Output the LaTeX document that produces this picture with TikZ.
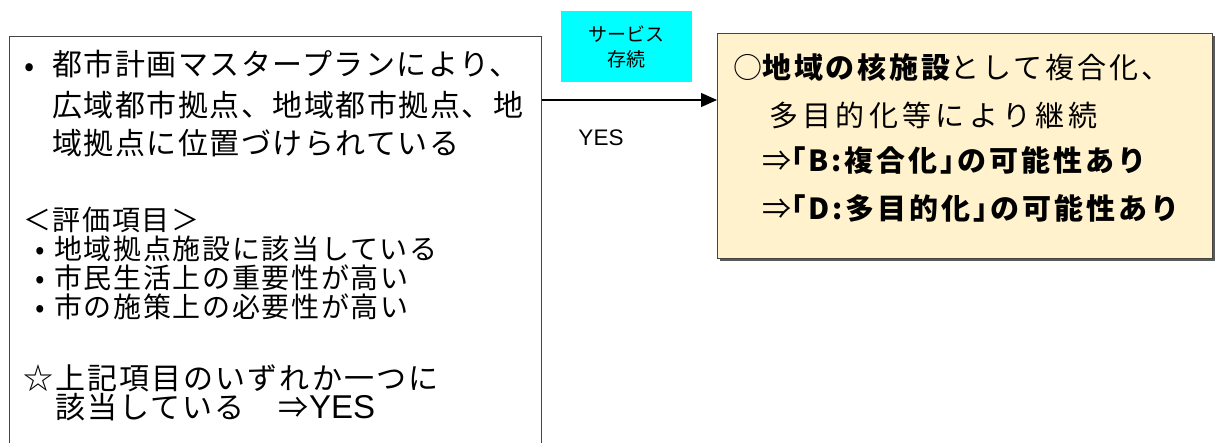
\documentclass[tikz,border=0pt]{standalone}
\usepackage{fontspec}
\setmainfont{Noto Sans CJK JP}
\newfontfamily\jpa[LetterSpace=5]{Noto Sans CJK JP}
\newfontfamily\jpb[LetterSpace=6]{Noto Sans CJK JP}
\newfontfamily\jpc[LetterSpace=7]{Noto Sans CJK JP}
\newfontfamily\jpr[LetterSpace=10]{Noto Sans CJK JP}
\newfontfamily\jpw[LetterSpace=15]{Noto Sans CJK JP}
\newfontfamily\lat{Liberation Sans}
\newcommand\bul{\makebox[1em][c]{•}}
\usetikzlibrary{arrows.meta,shadows}
\definecolor{boxgray}{HTML}{444444}
\definecolor{cream}{HTML}{FFF2CC}
\definecolor{shadowgray}{HTML}{5A5A5A}
\definecolor{aqua}{HTML}{00FFFF}
\begin{document}
\begin{tikzpicture}[x=1pt,y=-1pt,
  ta/.style={anchor=west, inner sep=0pt, text height=26.4pt, text depth=3.6pt,
             font=\jpa\fontsize{30}{32}\selectfont},
  tb/.style={anchor=west, inner sep=0pt, text height=24.6pt, text depth=3.4pt,
             font=\jpb\fontsize{28}{30}\selectfont},
  tc/.style={anchor=west, inner sep=0pt, text height=26.4pt, text depth=3.6pt,
             font=\jpc\fontsize{30}{32}\selectfont},
  rt/.style={anchor=west, inner sep=0pt, text height=25.5pt, text depth=3.5pt,
             font=\jpr\fontsize{29}{31}\selectfont},
  frame/.style={draw=boxgray, line width=1.2pt, inner sep=0pt, anchor=north west}]
\useasboundingbox (0,0) rectangle (1221,442);
\clip (0,0) rectangle (1221,442);
% left box
\node[frame, minimum width=532pt, minimum height=440pt] (lbox) at (9,36) {};
\node[inner sep=0pt, font=\fontsize{30}{32}\selectfont] (b1) at (30,70) {•};
\node[ta] (l1) at (52,64) {都市計画マスタープランにより、};
\node[ta] (l2) at (52,105) {広域都市拠点、地域都市拠点、地};
\node[ta] (l3) at (52,143) {域拠点に位置づけられている};
\node[tb] (l4) at (23,220) {＜評価項目＞};
\node[tb] (l5) at (26,249) {\bul 地域拠点施設に該当している};
\node[tb] (l6) at (26,278) {\bul 市民生活上の重要性が高い};
\node[tb] (l7) at (26,307) {\bul 市の施策上の必要性が高い};
\node[tc] (l8) at (23,378) {☆上記項目のいずれか一つに};
\node[tc] (l9) at (55,407) {該当している　⇒{\lat\fontsize{33}{34}\selectfont YES}};
% cyan label
\node[fill=aqua, minimum width=131pt, minimum height=71pt, inner sep=0pt,
      align=center, font=\fontsize{19}{25}\selectfont] (svc) at (626.5,46.5) {サービス\\存続};
% right box
\node[draw=boxgray, line width=0.8pt, fill=cream, inner sep=0pt, anchor=north west,
      minimum width=495pt, minimum height=225pt,
      drop shadow={shadow xshift=3pt, shadow yshift=-3pt, fill=shadowgray, opacity=1}] (rbox) at (717,33) {};
\node[rt] (r1) at (733,67) {○\bfseries 地域の核施設\mdseries として複合化、};
\node[rt, font=\jpw\fontsize{29}{31}\selectfont] (r2) at (769,115) {多目的化等により継続};
\node[rt] (r3) at (762,160) {⇒\bfseries ｢B:複合化｣の可能性あり};
\node[rt] (r4) at (762,208) {⇒\bfseries ｢D:多目的化｣の可能性あり};
% arrow
\coordinate (a) at ([yshift=-64pt]lbox.north east);
\draw[line width=1.2pt, -{Triangle[length=16pt,width=14pt]}] (a) -- (a -| rbox.west);
\node[inner sep=0pt, font=\lat\fontsize{22.5}{24}\selectfont] (yes) at (601,138) {YES};
\end{tikzpicture}
\end{document}
